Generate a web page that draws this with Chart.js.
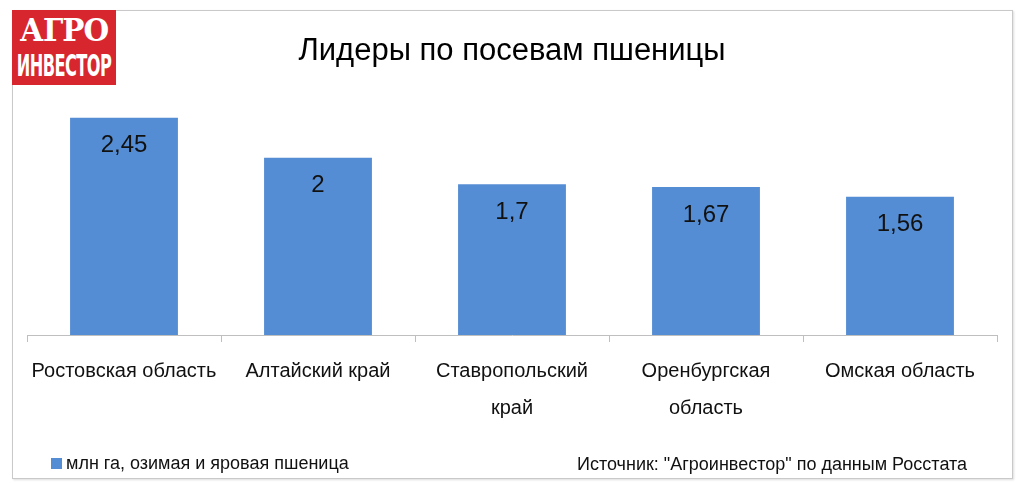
<!DOCTYPE html>
<html>
<head>
<meta charset="utf-8">
<script src="https://cdn.jsdelivr.net/npm/chart.js@4"></script>
<style>
    body { margin: 0; background: #fff; }
    #wrap { position: relative; width: 1024px; height: 496px; }
    #frame { position: absolute; left: 12px; top: 10px; width: 999px; height: 467px; border: 1px solid #c9c9c9; box-shadow: 1px 1px 2px #ddd; }
    #logo { position: absolute; left: 12px; top: 10px; width: 104px; height: 75px; background: #d8262f; color: #fff; overflow: hidden; }
    #logo div { position: absolute; left: 52px; white-space: nowrap; }
    #logo .top { top: 2px; font: bold 31px "DejaVu Serif", serif; letter-spacing: -1px; transform: translateX(-50%) scaleX(0.95); }
    #logo .bottom { top: 37px; font: bold 31px "DejaVu Sans Condensed", "DejaVu Sans", sans-serif; transform: translateX(-50%) scaleX(0.58); letter-spacing: -1px; }
    canvas { position: absolute; left: 0; top: 0; }
</style>
</head>
<body>
<div id="wrap">
    <div id="frame"></div>
    <canvas id="chart" width="1024" height="496"></canvas>
    <div id="logo"><div class="top">АГРО</div><div class="bottom">ИНВЕСТОР</div></div>
</div>
<script>
const regions = [
    'Ростовская область',
    'Алтайский край',
    ['Ставропольский', 'край'],
    ['Оренбургская', 'область'],
    'Омская область'
];
const sownArea = [2.45, 2, 1.7, 1.67, 1.56];
const seriesName = 'млн га, озимая и яровая пшеница';
const chartTitle = 'Лидеры по посевам пшеницы';
const sourceNote = 'Источник: "Агроинвестор" по данным Росстата';

const barColor = '#548dd4';
const fontFamily = '"Liberation Sans", Arial, sans-serif';

// values inside the top of every bar, with a decimal comma
const valueLabels = {
    id: 'valueLabels',
    afterDatasetsDraw(chart) {
        const ctx = chart.ctx;
        const meta = chart.getDatasetMeta(0);
        ctx.save();
        ctx.font = '24px ' + fontFamily;
        ctx.fillStyle = '#111';
        ctx.textAlign = 'center';
        ctx.textBaseline = 'middle';
        meta.data.forEach((bar, i) => {
            ctx.fillText(String(sownArea[i]).replace('.', ','), bar.x, bar.y + 28);
        });
        ctx.restore();
    }
};

// title, legend box and source line
const decorations = {
    id: 'decorations',
    afterDraw(chart) {
        const ctx = chart.ctx;
        ctx.save();
        ctx.fillStyle = '#000';
        ctx.textBaseline = 'middle';
        ctx.textAlign = 'center';
        ctx.font = '31px ' + fontFamily;
        ctx.fillText(chartTitle, 512, 51);

        ctx.textAlign = 'left';
        ctx.fillStyle = barColor;
        ctx.fillRect(51, 458, 11, 11);
        ctx.fillStyle = '#111';
        ctx.font = '18px ' + fontFamily;
        ctx.fillText(seriesName, 66, 464);
        ctx.fillText(sourceNote, 577, 465);
        ctx.restore();
    }
};

new Chart(document.getElementById('chart'), {
    type: 'bar',
    data: {
        labels: regions,
        datasets: [{
            label: seriesName,
            data: sownArea,
            backgroundColor: barColor,
            barPercentage: 0.556,
            categoryPercentage: 1
        }]
    },
    options: {
        responsive: false,
        animation: false,
        layout: { padding: { left: 27, right: 27, top: 69, bottom: 0 } },
        plugins: {
            legend: { display: false },
            tooltip: { enabled: false }
        },
        scales: {
            y: {
                display: false,
                min: 0,
                max: 3
            },
            x: {
                offset: true,
                afterFit: (scale) => { scale.height = 161; },
                border: { display: true, color: '#bfbfbf', width: 1 },
                grid: {
                    offset: true,
                    drawOnChartArea: false,
                    drawTicks: true,
                    tickLength: 7,
                    color: '#bfbfbf'
                },
                ticks: {
                    color: '#111',
                    padding: 11,
                    maxRotation: 0,
                    autoSkip: false,
                    font: { family: fontFamily, size: 20, lineHeight: 1.85 }
                }
            }
        }
    },
    plugins: [valueLabels, decorations]
});
</script>
</body>
</html>
